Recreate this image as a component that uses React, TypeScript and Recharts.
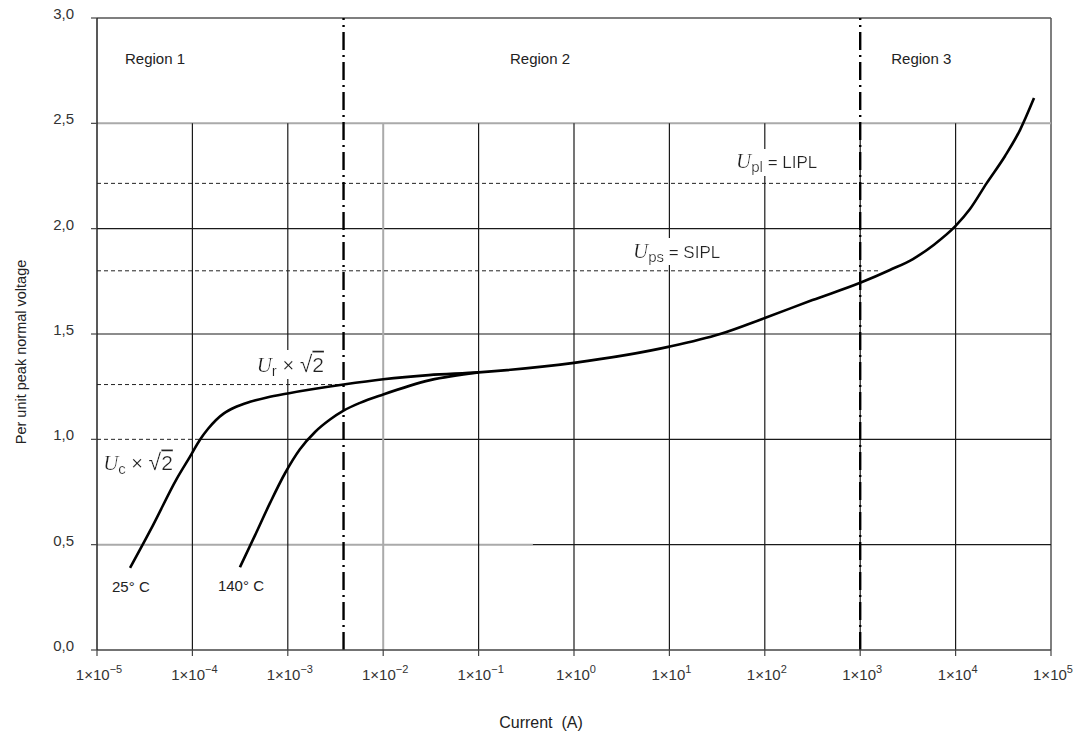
import React from "react";
import { ComposedChart, Line, XAxis, YAxis, ReferenceLine, ReferenceDot } from "recharts";

// axis ticks
const currentTicks = [1e-5, 1e-4, 1e-3, 1e-2, 1e-1, 1e0, 1e1, 1e2, 1e3, 1e4, 1e5];
const voltageTicks = [0, 0.5, 1.0, 1.5, 2.0, 2.5, 3.0];

// 25 °C characteristic, continues into the common high-current branch
const curve25Current = [
  2.22e-5, 3.87e-5, 6.8e-5, 9.44e-5, 1.2e-4, 1.46e-4, 1.77e-4, 2.14e-4, 2.73e-4, 4.02e-4, 6.05e-4, 1e-3,
  3.84e-3, 1e-2, 3e-2, 1e-1, 1, 10, 34, 100, 316, 1000, 2050, 3573, 5940, 1e4, 1.415e4, 2.11e4, 3.3e4,
  4.73e4, 6.64e4,
];
const curve25Voltage = [
  0.39, 0.593, 0.81, 0.918, 0.998, 1.05, 1.092, 1.123, 1.15, 1.178, 1.199, 1.218,
  1.26, 1.285, 1.305, 1.318, 1.363, 1.44, 1.5, 1.576, 1.661, 1.743, 1.804, 1.856, 1.924, 2.013, 2.093, 2.215, 2.345,
  2.468, 2.62,
];

// 140 °C characteristic, joins the 25 °C curve at 0.1 A
const curve140Current = [
  3.15e-4, 4.53e-4, 6.5e-4, 9.35e-4, 1.34e-3, 1.93e-3, 2.77e-3, 3.84e-3, 5.71e-3, 1e-2, 3.1e-2, 1e-1,
];
const curve140Voltage = [0.393, 0.544, 0.697, 0.839, 0.953, 1.035, 1.094, 1.136, 1.173, 1.213, 1.281, 1.318];

// region boundaries (A)
const regionBounds = [3.84e-3, 1e3];

// protection / continuous levels (p.u.) and the current where each dashed line stops
const levelNames = ["LIPL", "SIPL", "Ur", "Uc"];
const levelVoltage = [2.215, 1.8, 1.26, 1.0];
const levelEndCurrent = [2.11e4, 1.61e3, 3.84e-3, 1.2e-4];

const X_MIN = currentTicks[0];
const X_MAX = currentTicks[currentTicks.length - 1];
const GRID_TOP = 2.5;
const FONT = "'Liberation Sans', Arial, sans-serif";
const SERIF = "'Liberation Serif', 'Times New Roman', serif";
const TEXT = "#222";

const toRows = (xs: number[], ys: number[]) => xs.map((x, i) => ({ current: x, voltage: ys[i] }));
const curve25 = toRows(curve25Current, curve25Voltage);
const curve140 = toRows(curve140Current, curve140Voltage);

const CurrentTick = (props: any) => {
  const { x, y, payload } = props;
  const exp = Math.round(Math.log10(payload.value));
  const expText = exp < 0 ? `\u2212${-exp}` : `${exp}`;
  return (
    <text x={x + 2} y={y + 22} textAnchor="middle" fontSize={15} fill="#333" fontFamily={FONT}>
      <tspan>1×10</tspan>
      <tspan dy={-7} fontSize={11}>{expText}</tspan>
    </text>
  );
};

const VoltageTick = (props: any) => {
  const { x, y, payload } = props;
  return (
    <text x={x} y={y + 1} textAnchor="end" fontSize={15} fill="#333" fontFamily={FONT}>
      {payload.value.toFixed(1).replace(".", ",")}
    </text>
  );
};

// text placed relative to a data point; boxed labels get a white background
const note = (content: React.ReactNode, dx: number, dy: number, anchor = "start", boxed = false) =>
  (p: any) => (
    <text
      x={p.cx + dx}
      y={p.cy + dy}
      textAnchor={anchor}
      fontFamily={FONT}
      fontSize={15}
      fill={TEXT}
      filter={boxed ? "url(#labelBg)" : undefined}
    >
      {content}
    </text>
  );

const symbol = (sub: string, rest: React.ReactNode) => (
  <>
    <tspan fontFamily={SERIF} fontStyle="italic" fontSize={21}>U</tspan>
    <tspan fontSize={15} dy={4}>{sub}</tspan>
    <tspan fontSize={17} dy={-4}>{rest}</tspan>
  </>
);

const sqrt2 = (
  <>
    <tspan fontSize={20}>{"\u00a0× "}</tspan>
    <tspan fontSize={23}>√</tspan>
    <tspan fontSize={21} style={{ textDecoration: "overline" }}>2</tspan>
  </>
);

const LabelDefs = () => (
  <defs>
    <filter id="labelBg" x="0" y="0" width="1" height="1">
      <feFlood floodColor="#fff" />
      <feComposite in="SourceGraphic" operator="over" />
    </filter>
  </defs>
);

export default function App() {
  const black = { stroke: "#1a1a1a", strokeWidth: 1.2 };
  const gray = { stroke: "#aaa", strokeWidth: 2 };
  return (
    <div style={{ position: "absolute", left: 0, top: 0, background: "#fff" }}>
      <ComposedChart width={1080} height={734} margin={{ top: 18, right: 29, bottom: 0, left: 0 }}>
        <XAxis
          type="number"
          dataKey="current"
          scale="log"
          domain={[X_MIN, X_MAX]}
          ticks={currentTicks}
          allowDataOverflow
          height={84}
          tickSize={6}
          axisLine={{ stroke: "#444", strokeWidth: 1.5 }}
          tickLine={{ stroke: "#444", strokeWidth: 1.2 }}
          tick={<CurrentTick />}
          label={{
            content: () => (
              <text x={541} y={722} textAnchor="middle" dominantBaseline="central" fontSize={16} fill={TEXT} fontFamily={FONT}>
                Current{"\u00a0\u00a0"}(A)
              </text>
            ),
          }}
        />
        <YAxis
          type="number"
          dataKey="voltage"
          domain={[0, 3]}
          ticks={voltageTicks}
          allowDataOverflow
          width={97}
          tickSize={6}
          tickMargin={17}
          axisLine={{ stroke: "#222", strokeWidth: 1.5 }}
          tickLine={{ stroke: "#444", strokeWidth: 1.2 }}
          tick={<VoltageTick />}
          label={{
            content: () => (
              <text
                transform="translate(21,352) rotate(-90)"
                textAnchor="middle"
                dominantBaseline="central"
                fontSize={14.5}
                fill={TEXT}
                fontFamily={FONT}
              >
                Per unit peak normal voltage
              </text>
            ),
          }}
        />

        {/* frame */}
        <ReferenceLine segment={[{ x: X_MIN, y: 3 }, { x: X_MAX, y: 3 }]} stroke="#555" strokeWidth={1.5} />
        <ReferenceLine segment={[{ x: X_MAX, y: 0 }, { x: X_MAX, y: 3 }]} stroke="#555" strokeWidth={1.5} />

        {/* horizontal grid */}
        <ReferenceLine segment={[{ x: X_MIN, y: 2.5 }, { x: X_MAX, y: 2.5 }]} {...gray} />
        <ReferenceLine segment={[{ x: X_MIN, y: 2.0 }, { x: X_MAX, y: 2.0 }]} {...black} />
        <ReferenceLine segment={[{ x: X_MIN, y: 1.5 }, { x: X_MAX, y: 1.5 }]} {...black} />
        <ReferenceLine segment={[{ x: levelEndCurrent[3], y: 1.0 }, { x: X_MAX, y: 1.0 }]} {...black} />
        <ReferenceLine segment={[{ x: X_MIN, y: 0.5 }, { x: 0.37, y: 0.5 }]} {...gray} />
        <ReferenceLine segment={[{ x: 0.37, y: 0.5 }, { x: X_MAX, y: 0.5 }]} {...black} />

        {/* vertical grid, below 2.5 p.u. */}
        {currentTicks.slice(1, -1).map((c) => (
          <ReferenceLine
            key={c}
            segment={[{ x: c, y: 0 }, { x: c, y: GRID_TOP }]}
            {...(c === 1e-2 ? gray : black)}
          />
        ))}

        {/* dashed levels */}
        {levelVoltage.map((v, i) => (
          <ReferenceLine
            key={levelNames[i]}
            segment={[{ x: X_MIN, y: v }, { x: levelEndCurrent[i], y: v }]}
            stroke="#222"
            strokeWidth={1}
            strokeDasharray="4 3"
          />
        ))}

        {/* region boundaries */}
        {regionBounds.map((c) => (
          <ReferenceLine key={c} x={c} stroke="#000" strokeWidth={2.4} strokeDasharray="18 5 2 5" />
        ))}

        <Line
          data={curve25}
          dataKey="voltage"
          type="monotone"
          stroke="#000"
          strokeWidth={2.6}
          dot={false}
          isAnimationActive={false}
        />
        <Line
          data={curve140}
          dataKey="voltage"
          type="monotone"
          stroke="#000"
          strokeWidth={2.6}
          dot={false}
          isAnimationActive={false}
        />

        {/* region titles */}
        <ReferenceDot
          x={4.06e-5}
          y={3}
          r={0}
          ifOverflow="visible"
          shape={(p: any) => (
            <g>
              <LabelDefs />
              {note("Region 1", 0, 46, "middle")(p)}
            </g>
          )}
        />
        <ReferenceDot x={0.44} y={3} r={0} ifOverflow="visible" shape={note("Region 2", 0, 46, "middle")} />
        <ReferenceDot x={4370} y={3} r={0} ifOverflow="visible" shape={note("Region 3", 0, 46, "middle")} />

        {/* level annotations */}
        <ReferenceDot x={50} y={levelVoltage[0]} r={0} ifOverflow="visible" shape={note(symbol("pl", "\u00a0= LIPL"), 0, -15, "start", true)} />
        <ReferenceDot x={4.15} y={levelVoltage[1]} r={0} ifOverflow="visible" shape={note(symbol("ps", "\u00a0= SIPL"), 0, -13, "start", true)} />
        <ReferenceDot x={4.72e-4} y={levelVoltage[2]} r={0} ifOverflow="visible" shape={note(symbol("r", sqrt2), 0, -13, "start", true)} />
        <ReferenceDot x={1.16e-5} y={levelVoltage[3]} r={0} ifOverflow="visible" shape={note(symbol("c", sqrt2), 0, 31, "start", true)} />

        {/* temperature labels at the curve ends */}
        <ReferenceDot x={curve25Current[0]} y={curve25Voltage[0]} r={0} ifOverflow="visible" shape={note("25° C", -18, 24)} />
        <ReferenceDot x={curve140Current[0]} y={curve140Voltage[0]} r={0} ifOverflow="visible" shape={note("140° C", -22, 24)} />
      </ComposedChart>
    </div>
  );
}
